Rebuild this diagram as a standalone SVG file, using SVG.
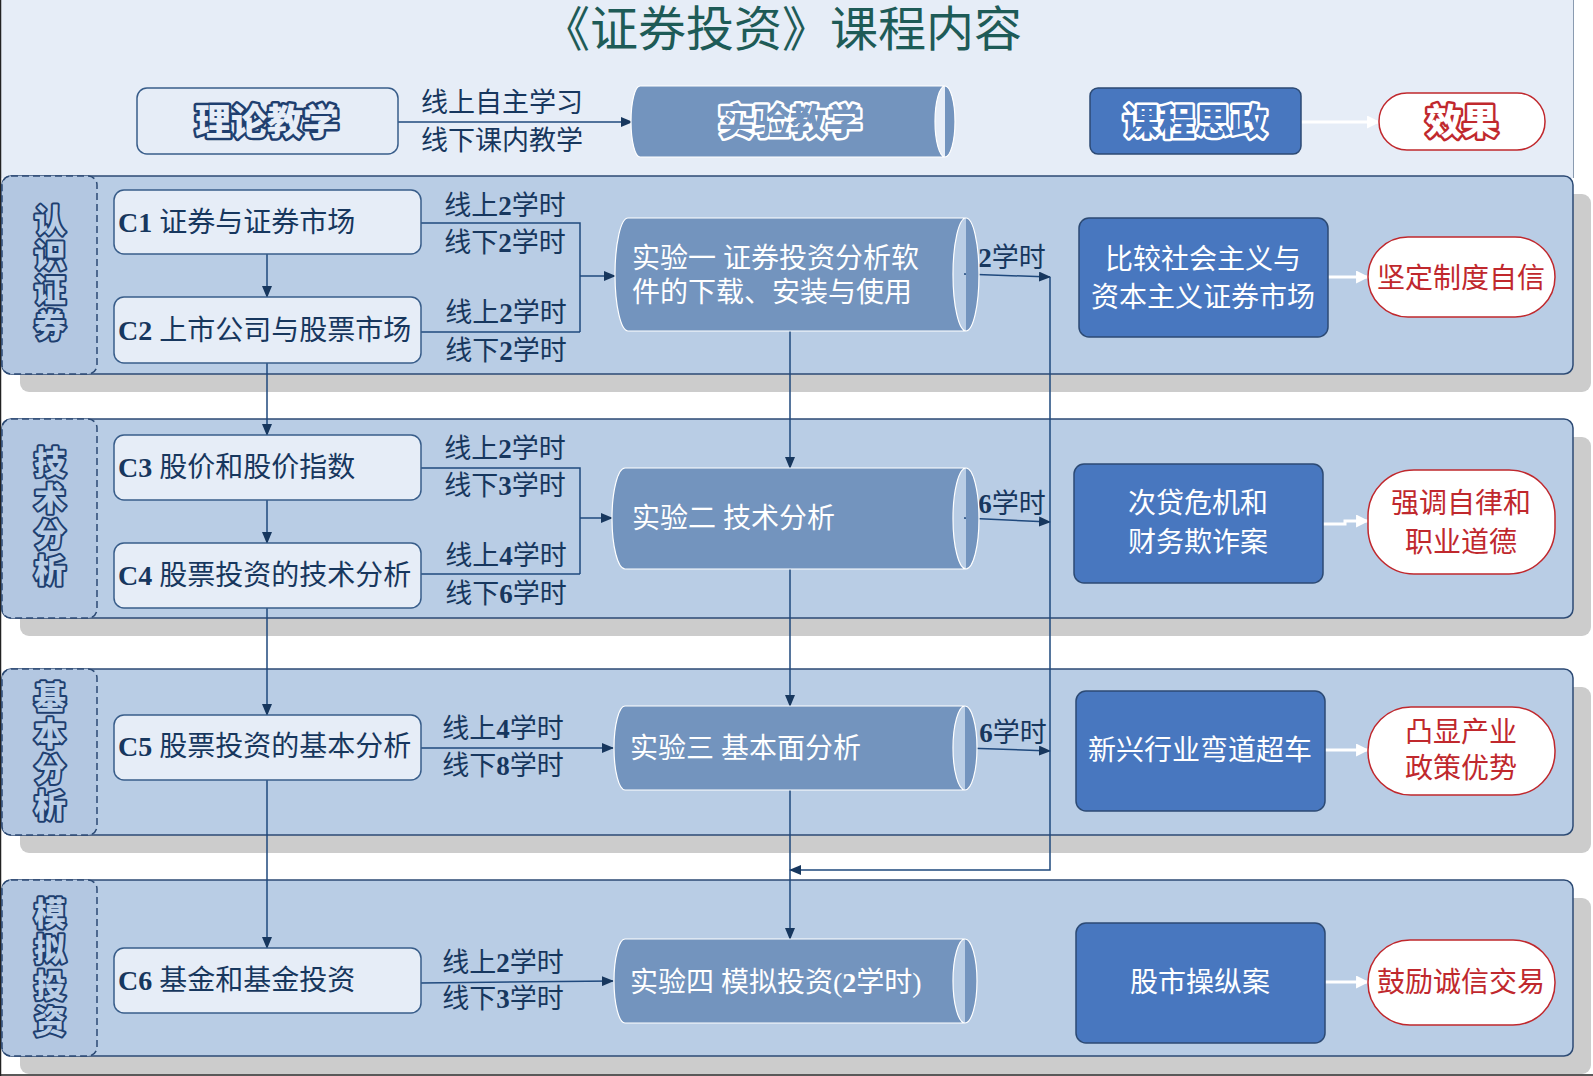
<svg xmlns="http://www.w3.org/2000/svg" width="1593" height="1076" viewBox="0 0 1593 1076">
<style>
.t{font-family:"Liberation Serif","Noto Sans CJK SC",serif;}
.navy{fill:#17375E;}
.b{font-weight:bold;}
.cbox{fill:#E6EDF7;stroke:#385D8A;stroke-width:1.5;}
.band{fill:#B9CDE5;stroke:#2C4A74;stroke-width:1.5;}
.shadow{fill:#CCCCCC;}
.lab{fill:#B3C7E1;stroke:#2C4A74;stroke-width:1.5;stroke-dasharray:7 4;}
.cyl{fill:#7394BE;stroke:#FFFFFF;stroke-width:1.2;}
.blue{fill:#4877BF;stroke:#2C4A74;stroke-width:1.5;}
.pill{fill:#FFFFFF;stroke:#C0282D;stroke-width:1.5;}
.hol{font-family:"Noto Sans CJK SC",sans-serif;font-weight:900;paint-order:stroke;stroke-linejoin:round;}
.vl{font-family:"Noto Sans CJK SC",sans-serif;font-weight:900;font-size:32px;letter-spacing:4px;writing-mode:vertical-rl;fill:#B9CDE5;stroke:#1F3F6F;stroke-width:4;paint-order:stroke;stroke-linejoin:round;text-anchor:middle;}
.wt{fill:#FFFFFF;}
.red{fill:#C0282D;}
.con{fill:none;stroke:#1F497D;stroke-width:1.5;}
.wcon{fill:none;stroke:#FFFFFF;stroke-width:3;}
</style>
<defs>
<marker id="ah" viewBox="0 0 12 10" refX="11" refY="5" markerWidth="12" markerHeight="10" markerUnits="userSpaceOnUse" orient="auto">
<path d="M0,0 L12,5 L0,10 Z" fill="#17375E"/>
</marker>
<marker id="wh" viewBox="0 0 12 12" refX="11" refY="6" markerWidth="13" markerHeight="13" markerUnits="userSpaceOnUse" orient="auto">
<path d="M0,0 L12,6 L0,12 Z" fill="#FFFFFF"/>
</marker>
</defs>

<!-- background -->
<rect x="0" y="0" width="1593" height="1076" fill="#FFFFFF"/>
<rect x="0" y="0" width="1573" height="178" fill="#E6EDF7"/>
<line x1="1573.5" y1="0" x2="1573.5" y2="178" stroke="#8A9BB0" stroke-width="1"/>
<line x1="0.5" y1="0" x2="0.5" y2="1076" stroke="#222222" stroke-width="1.5"/>
<line x1="0" y1="1075" x2="1593" y2="1075" stroke="#222222" stroke-width="1.5"/>

<!-- title -->
<text class="t" x="782" y="46" font-size="48" fill="#1E5B57" text-anchor="middle">《证券投资》课程内容</text>

<!-- bands -->
<g id="bands">
<rect class="shadow" x="20" y="194" width="1571" height="198" rx="9"/>
<rect class="shadow" x="20" y="437" width="1571" height="199" rx="9"/>
<rect class="shadow" x="20" y="687" width="1571" height="166" rx="9"/>
<rect class="shadow" x="20" y="898" width="1571" height="176" rx="9"/>
<rect class="band" x="2" y="176" width="1571" height="198" rx="9"/>
<rect class="band" x="2" y="419" width="1571" height="199" rx="9"/>
<rect class="band" x="2" y="669" width="1571" height="166" rx="9"/>
<rect class="band" x="2" y="880" width="1571" height="176" rx="9"/>
</g>
<g id="label-renshi">
<rect class="lab" x="2" y="176" width="95" height="198" rx="9"/>
<text class="vl" x="50" y="274" style="letter-spacing:3px">认识证券</text>
</g>
<g id="label-jishu">
<rect class="lab" x="2" y="419" width="95" height="199" rx="9"/>
<text class="vl" x="50" y="518">技术分析</text>
</g>
<g id="label-jiben">
<rect class="lab" x="2" y="669" width="95" height="166" rx="9"/>
<text class="vl" x="50" y="753">基本分析</text>
</g>
<g id="label-moni">
<rect class="lab" x="2" y="880" width="95" height="176" rx="9"/>
<text class="vl" x="50" y="969">模拟投资</text>
</g>

<!-- connectors -->
<g id="connectors">
<path class="con" d="M398,122 H632" marker-end="url(#ah)"/>
<path class="con" d="M267,254 V297" marker-end="url(#ah)"/>
<path class="con" d="M267,363 V435" marker-end="url(#ah)"/>
<path class="con" d="M267,500 V543" marker-end="url(#ah)"/>
<path class="con" d="M267,608 V715" marker-end="url(#ah)"/>
<path class="con" d="M267,780 V948" marker-end="url(#ah)"/>
<path class="con" d="M421,223 H580 V332 M421,332 H580"/>
<path class="con" d="M580,276 H615" marker-end="url(#ah)"/>
<path class="con" d="M421,468 H580 V574 M421,574 H580"/>
<path class="con" d="M580,518 H612" marker-end="url(#ah)"/>
<path class="con" d="M421,748 H613" marker-end="url(#ah)"/>
<path class="con" d="M421,983 L613,981" marker-end="url(#ah)"/>
<path class="con" d="M964,274 L1050,277" marker-end="url(#ah)"/>
<path class="con" d="M964,518 L1050,522" marker-end="url(#ah)"/>
<path class="con" d="M965,748 L1050,751" marker-end="url(#ah)"/>
<path class="con" d="M1050,277 V870 H790" marker-end="url(#ah)"/>
<path class="con" d="M790,331 V468" marker-end="url(#ah)"/>
<path class="con" d="M790,569 V706" marker-end="url(#ah)"/>
<path class="con" d="M790,790 V939" marker-end="url(#ah)"/>
<path class="wcon" d="M1301,122 H1379" marker-end="url(#wh)"/>
<path class="wcon" d="M1328,277 H1368" marker-end="url(#wh)"/>
<path class="wcon" d="M1323,524 H1345 V521 H1368" marker-end="url(#wh)"/>
<path class="wcon" d="M1325,750 H1368" marker-end="url(#wh)"/>
<path class="wcon" d="M1325,982 H1368" marker-end="url(#wh)"/>
</g>

<!-- connector labels -->
<g id="connector-labels" class="t navy" font-size="27" text-anchor="middle">
<text x="502" y="112">线上自主学习</text>
<text x="502" y="150">线下课内教学</text>
<text x="505" y="215">线上<tspan class="b">2</tspan>学时</text>
<text x="505" y="252">线下<tspan class="b">2</tspan>学时</text>
<text x="506" y="322">线上<tspan class="b">2</tspan>学时</text>
<text x="506" y="360">线下<tspan class="b">2</tspan>学时</text>
<text x="505" y="458">线上<tspan class="b">2</tspan>学时</text>
<text x="505" y="495">线下<tspan class="b">3</tspan>学时</text>
<text x="506" y="565">线上<tspan class="b">4</tspan>学时</text>
<text x="506" y="603">线下<tspan class="b">6</tspan>学时</text>
<text x="503" y="738">线上<tspan class="b">4</tspan>学时</text>
<text x="503" y="775">线下<tspan class="b">8</tspan>学时</text>
<text x="503" y="972">线上<tspan class="b">2</tspan>学时</text>
<text x="503" y="1008">线下<tspan class="b">3</tspan>学时</text>
<text x="1012" y="267"><tspan class="b">2</tspan>学时</text>
<text x="1012" y="513"><tspan class="b">6</tspan>学时</text>
<text x="1013" y="742"><tspan class="b">6</tspan>学时</text>
</g>

<!-- top row -->
<g id="node-lilun">
<rect class="cbox" x="137" y="88" width="261" height="66" rx="10"/>
<text class="hol" x="267" y="135" font-size="36" text-anchor="middle" fill="#E6EDF7" stroke="#1F3F6F" stroke-width="5">理论教学</text>
</g>
<g id="node-shiyan">
<path class="cyl" d="M640,86 L945,86 A10,35.5 0 0 1 945,157 L640,157 A9,35.5 0 0 1 640,86 Z M945,86 A10,35.5 0 0 0 945,157"/>
<text class="hol" x="790" y="135" font-size="36" text-anchor="middle" fill="#7394BE" stroke="#FFFFFF" stroke-width="5">实验教学</text>
</g>
<g id="node-sizheng">
<rect class="blue" x="1090" y="88" width="211" height="66" rx="8"/>
<text class="hol" x="1195" y="135" font-size="36" text-anchor="middle" fill="#4877BF" stroke="#FFFFFF" stroke-width="5">课程思政</text>
</g>
<g id="node-xiaoguo">
<rect class="pill" x="1379" y="93" width="166" height="57" rx="28"/>
<text class="hol" x="1462" y="135" font-size="36" text-anchor="middle" fill="#FFFFFF" stroke="#C0282D" stroke-width="5">效果</text>
</g>

<!-- C boxes -->
<g id="node-c1">
<rect class="cbox" x="114" y="190" width="307" height="64" rx="10"/>
<text class="t navy" x="118" y="232" font-size="28"><tspan class="b">C1</tspan> 证券与证券市场</text>
</g>
<g id="node-c2">
<rect class="cbox" x="114" y="297" width="307" height="66" rx="10"/>
<text class="t navy" x="118" y="340" font-size="28"><tspan class="b">C2</tspan> 上市公司与股票市场</text>
</g>
<g id="node-c3">
<rect class="cbox" x="114" y="435" width="307" height="65" rx="10"/>
<text class="t navy" x="118" y="477" font-size="28"><tspan class="b">C3</tspan> 股价和股价指数</text>
</g>
<g id="node-c4">
<rect class="cbox" x="114" y="543" width="307" height="65" rx="10"/>
<text class="t navy" x="118" y="585" font-size="28"><tspan class="b">C4</tspan> 股票投资的技术分析</text>
</g>
<g id="node-c5">
<rect class="cbox" x="114" y="715" width="307" height="65" rx="10"/>
<text class="t navy" x="118" y="756" font-size="28"><tspan class="b">C5</tspan> 股票投资的基本分析</text>
</g>
<g id="node-c6">
<rect class="cbox" x="114" y="948" width="307" height="65" rx="10"/>
<text class="t navy" x="118" y="990" font-size="28"><tspan class="b">C6</tspan> 基金和基金投资</text>
</g>

<!-- experiments -->
<g id="node-exp1">
<path class="cyl" d="M628,218 L966,218 A13,56.5 0 0 1 966,331 L628,331 A13,56.5 0 0 1 628,218 Z M966,218 A13,56.5 0 0 0 966,331"/>
<text class="t wt" x="632" y="268" font-size="28">实验一 证券投资分析软</text>
<text class="t wt" x="632" y="302" font-size="28">件的下载、安装与使用</text>
</g>
<g id="node-exp2">
<path class="cyl" d="M625,468 L966,468 A13,50.5 0 0 1 966,569 L625,569 A13,50.5 0 0 1 625,468 Z M966,468 A13,50.5 0 0 0 966,569"/>
<text class="t wt" x="632" y="528" font-size="28">实验二 技术分析</text>
</g>
<g id="node-exp3">
<path class="cyl" d="M625,706 L965,706 A12,42 0 0 1 965,790 L625,790 A11,42 0 0 1 625,706 Z M965,706 A12,42 0 0 0 965,790"/>
<text class="t wt" x="630" y="758" font-size="28">实验三 基本面分析</text>
</g>
<g id="node-exp4">
<path class="cyl" d="M625,939 L965,939 A12,42 0 0 1 965,1023 L625,1023 A11,42 0 0 1 625,939 Z M965,939 A12,42 0 0 0 965,1023"/>
<text class="t wt" x="630" y="992" font-size="28">实验四 模拟投资(<tspan class="b">2</tspan>学时)</text>
</g>

<!-- ideology boxes -->
<g id="node-box1">
<rect class="blue" x="1079" y="218" width="249" height="119" rx="10"/>
<text class="t wt" x="1203" y="269" font-size="28" text-anchor="middle">比较社会主义与</text>
<text class="t wt" x="1203" y="307" font-size="28" text-anchor="middle">资本主义证券市场</text>
</g>
<g id="node-box2">
<rect class="blue" x="1074" y="464" width="249" height="119" rx="10"/>
<text class="t wt" x="1198" y="513" font-size="28" text-anchor="middle">次贷危机和</text>
<text class="t wt" x="1198" y="552" font-size="28" text-anchor="middle">财务欺诈案</text>
</g>
<g id="node-box3">
<rect class="blue" x="1076" y="691" width="249" height="120" rx="10"/>
<text class="t wt" x="1200" y="760" font-size="28" text-anchor="middle">新兴行业弯道超车</text>
</g>
<g id="node-box4">
<rect class="blue" x="1076" y="923" width="249" height="120" rx="10"/>
<text class="t wt" x="1200" y="992" font-size="28" text-anchor="middle">股市操纵案</text>
</g>

<!-- effect pills -->
<g id="node-pill1">
<rect class="pill" x="1368" y="237" width="187" height="80" rx="40"/>
<text class="t red" x="1461" y="288" font-size="28" text-anchor="middle">坚定制度自信</text>
</g>
<g id="node-pill2">
<rect class="pill" x="1368" y="470" width="187" height="104" rx="46"/>
<text class="t red" x="1461" y="513" font-size="28" text-anchor="middle">强调自律和</text>
<text class="t red" x="1461" y="552" font-size="28" text-anchor="middle">职业道德</text>
</g>
<g id="node-pill3">
<rect class="pill" x="1368" y="707" width="187" height="88" rx="43"/>
<text class="t red" x="1461" y="742" font-size="28" text-anchor="middle">凸显产业</text>
<text class="t red" x="1461" y="778" font-size="28" text-anchor="middle">政策优势</text>
</g>
<g id="node-pill4">
<rect class="pill" x="1368" y="940" width="187" height="85" rx="42"/>
<text class="t red" x="1461" y="992" font-size="28" text-anchor="middle">鼓励诚信交易</text>
</g>
</svg>
